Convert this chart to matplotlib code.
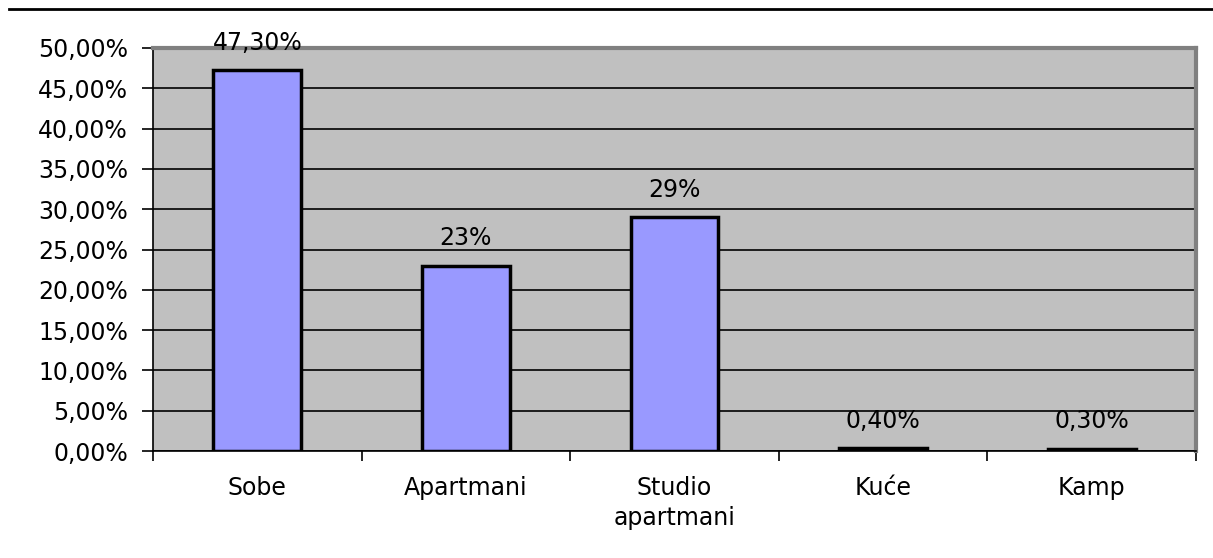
import matplotlib
matplotlib.use("Agg")
import matplotlib.pyplot as plt
from matplotlib.lines import Line2D
from matplotlib.ticker import MultipleLocator, FuncFormatter, FixedLocator

categories = ["Sobe", "Apartmani", "Studio\napartmani", "Kuće", "Kamp"]
values = [47.3, 23, 29, 0.4, 0.3]
value_labels = ["47,30%", "23%", "29%", "0,40%", "0,30%"]

plt.rcParams['font.family'] = ['DejaVu Sans']
FS = 17

W, H = 1213, 558
fig = plt.figure(figsize=(W / 100, H / 100), dpi=100)
fig.patch.set_facecolor("white")
L, R, T, B = 153, 1196, 48, 451
ax = fig.add_axes([L / W, 1 - B / H, (R - L) / W, (B - T) / H])
ax.set_facecolor("#c0c0c0")

x = list(range(len(categories)))
ax.bar(x, values, width=0.42, color="#9999ff", edgecolor="black", linewidth=2.5, zorder=3)

ax.set_xlim(-0.5, len(categories) - 0.5)
ax.set_ylim(0, 50)
ax.yaxis.set_major_locator(MultipleLocator(5))
ax.yaxis.set_major_formatter(FuncFormatter(lambda v, p: f"{v:.2f}".replace(".", ",") + "%"))
ax.grid(axis="y", color="black", linewidth=1.2, zorder=1)
ax.set_axisbelow(True)

ax.set_xticks(x)
ax.set_xticklabels(categories, fontsize=FS, linespacing=1.3)
ax.tick_params(axis="x", which="major", length=0, pad=18)
ax.xaxis.set_minor_locator(FixedLocator([i - 0.5 for i in range(len(categories) + 1)]))
ax.tick_params(axis="x", which="minor", length=7, width=1.2, color="black", direction="out")
ax.tick_params(axis="y", length=8, width=1.2, color="black", direction="out", labelsize=FS, pad=10)

for s in ["left", "bottom"]:
    ax.spines[s].set_color("black")
    ax.spines[s].set_linewidth(1.2)
for s in ["top", "right"]:
    ax.spines[s].set_color("#808080")
    ax.spines[s].set_linewidth(3)

for xi, v, lab in zip(x, values, value_labels):
    ax.annotate(lab, (xi, v), xytext=(0, 14.5), textcoords="offset points",
                ha="center", va="baseline", fontsize=FS, color="black", zorder=5,
                annotation_clip=False)

fig.add_artist(Line2D([9 / W, 1.0], [1 - 9 / H, 1 - 9 / H], color="black", linewidth=2,
                      transform=fig.transFigure))

fig.savefig("out.png", dpi=100)
